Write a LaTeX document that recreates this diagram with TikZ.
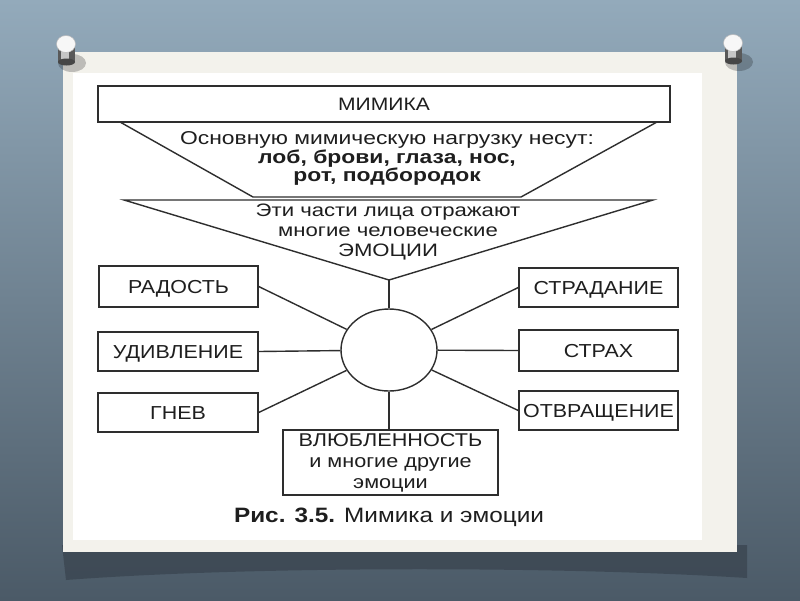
\documentclass[tikz,border=0pt]{standalone}
\usepackage{fontspec}
\setmainfont{Liberation Sans}[FakeStretch=1.16]
\newfontfamily\fB{Liberation Sans}[FakeStretch=1.14]
\newfontfamily\fC{Liberation Sans}[FakeStretch=1.17]
\newfontfamily\fD{Liberation Sans}[FakeStretch=1.23]
\usetikzlibrary{shapes.geometric}
\definecolor{bgtop}{HTML}{93AABB}
\definecolor{bgbot}{HTML}{4B5A67}
\definecolor{cardc}{HTML}{F3F2EC}
\definecolor{linec}{HTML}{2E2E2E}
\definecolor{textc}{HTML}{1E1E1E}
\definecolor{shadowc}{HTML}{3B4651}
\tikzset{
  lbl/.style={draw=linec, line width=1.4pt, fill=white, inner sep=0pt, text=textc,
              font=\fB\fontsize{18.8}{21}\selectfont, align=center},
  one/.style={text height=13.4pt, text depth=0pt},
  conn/.style={draw=linec, line width=1.4pt},
  txt/.style={text=textc, inner sep=0pt, align=center},
}
\begin{document}
\begin{tikzpicture}[x=1pt,y=-1pt]
\useasboundingbox (0,0) rectangle (800,600);
% background
\shade[top color=bgtop, bottom color=bgbot] (0,0) rectangle (800,600);
% card shadow
\fill[shadowc, opacity=0.8] (62,545) -- (747,545) -- (747,578) .. controls (560,566) and (250,566) .. (66,580) -- cycle;
% card
\fill[cardc] (63,52) rectangle (737,552);
\fill[white] (73,73) rectangle (702,540);
% pins
\foreach \px/\py in {66/44, 733/43} {
  \fill[black, opacity=0.22] (\px+6,\py+19) ellipse (14 and 9);
  \fill[gray!70!black] (\px-8,\py) rectangle (\px+9,\py+18);
  \fill[gray!45] (\px-5,\py) rectangle (\px+3,\py+17);
  \fill[gray!55!black] (\px+0.5,\py+18) ellipse (8.5 and 3.5);
  \fill[white!94!gray, draw=gray!55, line width=0.5pt] (\px,\py) ellipse (9.5 and 8.5);
}
% top box
\node[lbl, one, minimum width=572pt, minimum height=36pt, font=\fC\fontsize{18}{19}\selectfont] (mim) at (384,104) {МИМИКА};
% trapezoid
\coordinate (tl) at (120,122);
\coordinate (tr) at (657,122);
\coordinate (bl) at (253,197);
\coordinate (br) at (521,197);
\draw[conn] (tl) -- (bl) -- (br) -- (tr);
\node[txt, font=\fD\fontsize{18.6}{18.5}\selectfont] (load) at (387,158.5)
  {Основную мимическую нагрузку несут:\\ \textbf{лоб, брови, глаза, нос,}\\ \textbf{рот, подбородок}};
% triangle
\coordinate (ttl) at (124,200);
\coordinate (ttr) at (653,200);
\coordinate (apex) at (389,280);
\draw[conn] (apex) -- (ttl) -- (ttr) -- cycle;
\node[txt, font=\fD\fontsize{18}{20}\selectfont] (parts) at (388,232)
  {Эти части лица отражают\\ многие человеческие\\ ЭМОЦИИ};
% circle
\node[ellipse, draw=linec, line width=1.4pt, minimum width=96pt, minimum height=82pt, inner sep=0pt] (c) at (389,350) {};
% emotion boxes
\node[lbl, one, minimum width=159pt, minimum height=41pt] (rad) at (178.5,286.5) {РАДОСТЬ};
\node[lbl, one, minimum width=160pt, minimum height=39pt] (udiv) at (178,351.5) {УДИВЛЕНИЕ};
\node[lbl, one, minimum width=160pt, minimum height=39pt] (gnev) at (178,412.5) {ГНЕВ};
\node[lbl, one, minimum width=159pt, minimum height=39pt] (strad) at (598.5,287.5) {СТРАДАНИЕ};
\node[lbl, one, minimum width=159pt, minimum height=41pt] (strah) at (598.5,350.5) {СТРАХ};
\node[lbl, one, minimum width=159pt, minimum height=39pt] (otvr) at (598.5,410.5) {ОТВРАЩЕНИЕ};
\node[lbl, minimum width=215pt, minimum height=65pt, font=\fC\fontsize{18.5}{21}\selectfont] (vlub) at (390.5,462.5)
  {ВЛЮБЛЕННОСТЬ\\ и многие другие\\ эмоции};
% connectors
\draw[conn] (apex) -- (c.north);
\draw[conn] (rad.east) -- (c);
\draw[conn] (udiv.east) -- (c);
\draw[conn] (gnev.east) -- (c);
\draw[conn] (strad.west) -- (c);
\draw[conn] (strah.west) -- (c);
\draw[conn] (otvr.west) -- (c);
\draw[conn] (c.south) -- (c.south |- vlub.north);
% caption
\node[txt, font=\fC\fontsize{20.8}{22}\selectfont] (cap) at (389,517) {\textbf{Рис. 3.5.} Мимика и эмоции};
\end{tikzpicture}
\end{document}
